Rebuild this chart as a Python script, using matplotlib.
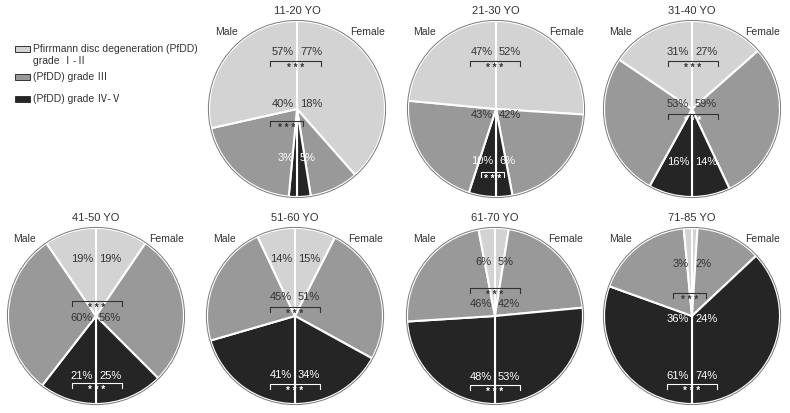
import matplotlib.pyplot as plt
from matplotlib.patches import Rectangle, Circle

plt.rcParams['font.family'] = ['Liberation Sans', 'Noto Sans CJK KR', 'DejaVu Sans']

# Pfirrmann grade shares (%) per age group
ages = ['11-20 YO', '21-30 YO', '31-40 YO', '41-50 YO', '51-60 YO', '61-70 YO', '71-85 YO']
male_12 = [57, 47, 31, 19, 14, 6, 3]
male_3 = [40, 43, 53, 60, 45, 46, 36]
male_45 = [3, 10, 16, 21, 41, 48, 61]
female_12 = [77, 52, 27, 19, 15, 5, 2]
female_3 = [18, 42, 59, 56, 51, 42, 24]
female_45 = [5, 6, 14, 25, 34, 53, 74]
legend_labels = ['Pfirrmann disc degeneration (PfDD)', '(PfDD) grade Ⅲ', '(PfDD) grade Ⅳ-Ⅴ']

colors = ['#d3d3d3', '#999999', '#252525']
txt = '#333333'

# layout (pixels): pie centres, label rows, brackets
W, H = 790, 413
R = 88
centers = [(297, 109), (496, 109), (692, 109),
           (96, 316), (295, 316), (495, 316), (692, 316)]
# y offsets of the three label rows and colour of each row
rows = [(-57, -5, 49), (-57, 6, 52), (-57, -5, 53), (-57, 2, 60),
        (-57, -19, 59), (-54, -12, 61), (-52, 3, 60)]
row_cols = [(txt, txt, 'w'), (txt, txt, 'w'), (txt, txt, 'w'), (txt, txt, 'w'),
            (txt, txt, 'w'), (txt, txt, 'w'), (txt, 'w', 'w')]
# brackets: (y offset, x left, x right, line colour, star colour)
brackets = [
    [(-48, -27, 24, txt, txt), (12, -27, 6, txt, txt)],
    [(-48, -26, 24, txt, txt), (63, -15, 8, 'w', 'w')],
    [(-48, -24, 26, txt, txt), (5, -24, 26, txt, 'w')],
    [(-15, -24, 26, txt, txt), (67, -24, 26, 'w', 'w')],
    [(-9, -25, 25, txt, txt), (68, -25, 25, 'w', 'w')],
    [(-28, -25, 25, txt, txt), (69, -25, 25, 'w', 'w')],
    [(-23, -19, 14, txt, txt), (68, -25, 25, 'w', 'w')],
]

fig = plt.figure(figsize=(W / 100, H / 100), dpi=100)
ax = fig.add_axes([0, 0, 1, 1])


def Y(y):
    return H - y


for i, age in enumerate(ages):
    cx, cy = centers[i]
    vals = [female_12[i], female_3[i], female_45[i], male_45[i], male_3[i], male_12[i]]
    ax.pie(vals, center=(cx, Y(cy)), radius=R, startangle=90, counterclock=False,
           colors=colors + colors[::-1],
           wedgeprops=dict(edgecolor='white', linewidth=1.5))
    ax.add_patch(Circle((cx, Y(cy)), R + 0.6, fill=False, ec='#7a7a7a', lw=0.7))

    ax.text(cx, Y(cy - 98), age, ha='center', va='center', fontsize=8, color=txt)
    ax.text(cx - 71, Y(cy - 77), 'Male', ha='center', va='center', fontsize=7.5, color=txt)
    ax.text(cx + 71, Y(cy - 77), 'Female', ha='center', va='center', fontsize=7.5, color=txt)

    pairs = [(male_12[i], female_12[i]), (male_3[i], female_3[i]), (male_45[i], female_45[i])]
    for (m, f), dy, c in zip(pairs, rows[i], row_cols[i]):
        ax.text(cx - 3, Y(cy + dy), f'{m}%', ha='right', va='center', fontsize=8, color=c)
        ax.text(cx + 3, Y(cy + dy), f'{f}%', ha='left', va='center', fontsize=8, color=c)

    for dy, x1, x2, lc, sc in brackets[i]:
        yb = cy + dy
        ax.plot([cx + x1, cx + x1, cx + x2, cx + x2],
                [Y(yb + 5), Y(yb), Y(yb), Y(yb + 5)], color=lc, lw=0.8)
        ax.text(cx + (x1 + x2) / 2, Y(yb + 10), '* * *', ha='center', va='baseline',
                fontsize=7, fontweight='bold', color=sc)

# legend
leg_y = [49, 77, 99]
for lab, c, ly in zip(legend_labels, colors, leg_y):
    ax.add_patch(Rectangle((15, Y(ly + 3)), 15, 6, fc=c, ec='#333333', lw=0.7))
    ax.text(33, Y(ly), lab, ha='left', va='center', fontsize=7.5, color=txt)
ax.text(33, Y(61), 'grade Ⅰ-Ⅱ', ha='left', va='center', fontsize=7.5, color=txt)

ax.set_xlim(0, W)
ax.set_ylim(0, H)
ax.set_aspect('auto')
ax.axis('off')
fig.savefig('out.png', dpi=100)
